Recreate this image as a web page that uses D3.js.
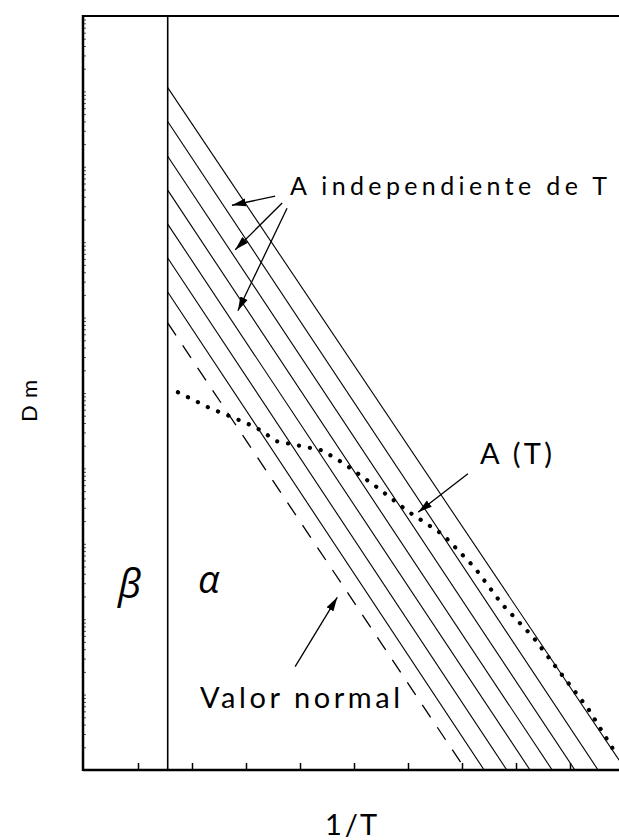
<!DOCTYPE html>
<html><head><meta charset="utf-8">
<script src="https://cdn.jsdelivr.net/npm/d3@7"></script>
<style>html,body{margin:0;padding:0;background:#fff;} svg{display:block}</style>
</head><body>
<svg id="chart" width="619" height="840"></svg>
<script>
// Diffusion coefficient Dm (log scale) against 1/T, β and α phase fields.

// β/α transition on the 1/T axis
const phaseBoundary = 1.55;
// 1/T tick positions
const xTickValues = [1, 2, 3, 4, 5, 6, 7, 8, 9, 10];

// Lines with A independent of T: start and end points as [1/T, log10 Dm]
const constAStartX = [1.55, 1.55, 1.55, 1.55, 1.55, 1.55, 1.55];
const constAStartLog = [-0.95, -1.40, -1.86, -2.31, -2.76, -3.21, -3.66];
const constAEndX = [9.91, 9.52, 9.09, 8.67, 8.26, 7.83, 7.41];
const constAEndLog = [-9.87, -10, -10, -10, -10, -10, -10];

// "Valor normal" line
const normalX = [1.55, 7.07];
const normalLog = [-4.07, -10];

// A(T) curve
const aTX = [1.74, 2.33, 2.74, 3.17, 3.57, 4.00, 4.41, 4.80, 5.39, 6.00, 6.65, 7.24, 7.74, 8.32, 8.82, 9.33, 9.83];
const aTLog = [-4.99, -5.20, -5.32, -5.45, -5.64, -5.70, -5.76, -5.93, -6.23, -6.57, -6.88, -7.32, -7.80, -8.24, -8.71, -9.18, -9.76];

const svg = d3.select("#chart");
const W = 619;
const frameLeft = 83, frameTop = 16, frameBottom = 770;

const x = d3.scaleLinear().domain([0, 10]).range([84, 624]);
const y = d3.scaleLog().domain([1e-10, 1]).range([frameBottom, frameTop]);
const Y = v => y(Math.pow(10, v));

const font = "Lato, 'Open Sans', 'DejaVu Sans', sans-serif";

const defs = svg.append("defs");
defs.append("clipPath").attr("id", "plot")
  .append("rect").attr("x", frameLeft).attr("y", frameTop)
  .attr("width", W - frameLeft).attr("height", frameBottom - frameTop);

defs.append("marker")
  .attr("id", "head").attr("markerUnits", "userSpaceOnUse")
  .attr("markerWidth", 15).attr("markerHeight", 9)
  .attr("refX", 14).attr("refY", 4.5).attr("orient", "auto")
  .append("path").attr("d", "M0,0.5 L14,4.5 L0,8.5 Z").attr("fill", "#000");

// y axis with inner log ticks (no labels)
const yAxis = d3.axisLeft(y).ticks(30).tickFormat("")
  .tickSizeInner(-3).tickSizeOuter(0);
const gy = svg.append("g").attr("transform", `translate(${frameLeft},0)`).call(yAxis);
gy.select(".domain").remove();
gy.selectAll(".tick line").attr("stroke", "#555").attr("stroke-width", 1);

// x axis with inner ticks
const xAxis = d3.axisBottom(x).tickValues(xTickValues).tickFormat("")
  .tickSizeInner(-7).tickSizeOuter(0);
const gx = svg.append("g").attr("transform", `translate(0,${frameBottom})`).call(xAxis);
gx.select(".domain").remove();
gx.selectAll(".tick line").attr("stroke", "#000").attr("stroke-width", 1.5);

// frame
svg.append("line").attr("x1", frameLeft).attr("x2", frameLeft).attr("y1", frameTop - 1).attr("y2", frameBottom + 1)
  .attr("stroke", "#000").attr("stroke-width", 2.5);
svg.append("line").attr("x1", frameLeft).attr("x2", W).attr("y1", frameTop).attr("y2", frameTop)
  .attr("stroke", "#000").attr("stroke-width", 2);
svg.append("line").attr("x1", frameLeft).attr("x2", W).attr("y1", frameBottom).attr("y2", frameBottom)
  .attr("stroke", "#000").attr("stroke-width", 2.5);

// phase boundary
svg.append("line").attr("x1", x(phaseBoundary)).attr("x2", x(phaseBoundary))
  .attr("y1", frameTop).attr("y2", frameBottom).attr("stroke", "#000").attr("stroke-width", 1.6);

const plot = svg.append("g").attr("clip-path", "url(#plot)");
const line = d3.line().x(d => x(d[0])).y(d => Y(d[1]));

constAStartX.forEach((sx, i) => {
  plot.append("path")
    .attr("d", line([[sx, constAStartLog[i]], [constAEndX[i], constAEndLog[i]]]))
    .attr("fill", "none").attr("stroke", "#000").attr("stroke-width", 1.1);
});

plot.append("path")
  .attr("d", line(normalX.map((v, i) => [v, normalLog[i]])))
  .attr("fill", "none").attr("stroke", "#000").attr("stroke-width", 1.3)
  .attr("stroke-dasharray", "15,12");

plot.append("path")
  .attr("d", line(aTX.map((v, i) => [v, aTLog[i]])))
  .attr("fill", "none").attr("stroke", "#000").attr("stroke-width", 4.2)
  .attr("stroke-linecap", "round").attr("stroke-dasharray", "0.1,11");

// annotation arrows, [1/T, log10 Dm]
const arrows = [
  [[3.54, -2.39], [2.74, -2.51]],
  [[3.67, -2.48], [2.80, -3.10]],
  [[3.76, -2.55], [2.85, -3.91]],
  [[7.11, -6.07], [6.19, -6.58]],
  [[3.91, -8.63], [4.69, -7.71]]
];
arrows.forEach(a => {
  svg.append("path").attr("d", line(a)).attr("stroke", "#000").attr("stroke-width", 1.3)
    .attr("fill", "none").attr("marker-end", "url(#head)");
});

function label(txt, px, py, size, len, extra) {
  const t = svg.append("text").attr("x", px).attr("y", py).text(txt)
    .attr("font-family", font).attr("font-size", size).attr("font-weight", 400).attr("fill", "#000");
  if (len) t.attr("textLength", len).attr("lengthAdjust", "spacing");
  if (extra) extra(t);
  return t;
}
label("A independiente de T", x(3.815), Y(-2.374), 25, 317);
label("A (T)", x(7.333), Y(-5.942), 29, 72);
label("Valor normal", x(2.148), Y(-9.178), 29, 200);
const greek = t => t.attr("font-style", "italic").attr("font-family", "'Open Sans', 'Noto Sans', sans-serif");
label("β", x(0.63), Y(-7.72), 40, null, greek);
label("α", x(2.111), Y(-7.65), 38, null, greek);

label("1 / T", 325, 835, 29, 52);
svg.append("text").attr("transform", "translate(37,422) rotate(-90)")
  .attr("font-family", font).attr("font-size", 22).attr("font-weight", 400)
  .attr("textLength", 42).attr("lengthAdjust", "spacing")
  .text("D m");
</script>
</body></html>
